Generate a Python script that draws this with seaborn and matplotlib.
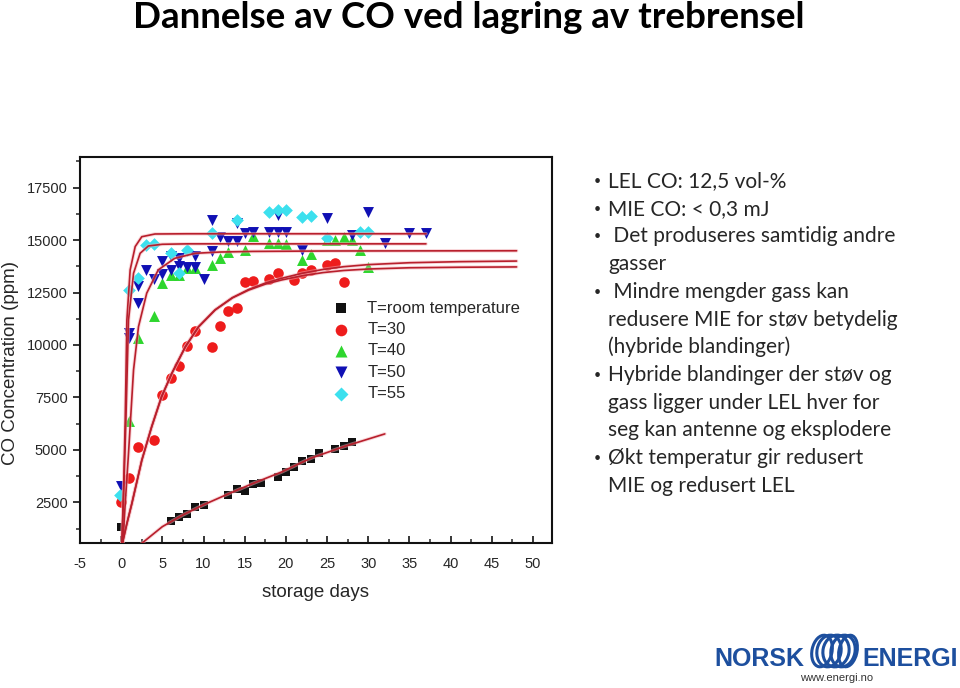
#plot.py - Dannelse av CO ved lagring av trebrensel

import matplotlib
matplotlib.use("Agg")
import matplotlib.pyplot as plt
from matplotlib.patches import Ellipse
from matplotlib.ticker import MultipleLocator
import pandas as pd
import seaborn as sns

#Målepunkter (dager, ppm CO)
rom_dager = [0, 6, 7, 8, 9, 10, 13, 14, 15, 16, 17, 19, 20, 21, 22, 23, 24, 26, 27, 28]
rom_co = [1340, 1626, 1817, 1928, 2262, 2389, 2834, 3120, 3056, 3374, 3437, 3692,
          3958, 4165, 4467, 4546, 4832, 5027, 5186, 5377]

t30_dager = [0, 1, 2, 4, 5, 6, 7, 8, 9, 11, 12, 13, 14, 15, 16, 18, 19, 21, 22, 23, 25, 26, 27]
t30_co = [2530, 3640, 5150, 5470, 7620, 8410, 9010, 9970, 10670, 9920, 10920, 11640,
          11750, 13020, 13070, 13130, 13450, 13100, 13420, 13590, 13810, 13900, 13000]

t40_dager = [1, 2, 4, 5, 6, 7, 8, 9, 11, 12, 13, 15, 16, 18, 19, 20, 22, 23, 25, 26, 27, 28, 29, 30]
t40_co = [6390, 10320, 11390, 12940, 13340, 13340, 13670, 13650, 13790, 14130, 14420,
          14530, 15200, 14850, 14850, 14830, 14050, 14320, 15010, 15010, 15140, 15010,
          14510, 13740]

t50_dager = [0, 1, 1, 2, 2, 3, 4, 5, 5, 6, 6, 7, 7, 8, 9, 9, 10, 11, 11, 12, 13, 14, 14,
             15, 16, 18, 19, 19, 20, 22, 25, 28, 30, 32, 35, 37]
t50_co = [3270, 10590, 10320, 12810, 11990, 13580, 13130, 13990, 13400, 14250, 13590,
          14150, 13770, 13700, 14250, 13740, 13150, 15980, 14470, 15150, 14960, 14960,
          15800, 15330, 15390, 15390, 15390, 16200, 15390, 14530, 16040, 15250, 16360,
          14880, 15350, 15350]

t55_dager = [-0.2, 1, 2, 3, 4, 6, 7, 8, 11, 14, 18, 19, 20, 22, 23, 25, 29, 30]
t55_co = [2850, 12620, 13180, 14770, 14800, 14370, 13420, 14530, 15330, 15960, 16360,
          16440, 16440, 16090, 16150, 15090, 15400, 15400]

#Tilpassede kurver, punkter avlest langs linjene
rom_fit_x = [2.5, 5, 7.5, 10, 13, 16, 19.5, 23, 27, 32]
rom_fit_y = [545, 1340, 1900, 2380, 2900, 3400, 3950, 4600, 5150, 5760]

t30a_fit_x = [0.15, 0.7, 1.3, 2.5, 3.7, 4.9, 6.15, 7.8, 9.4, 11.4, 13.5, 15.5, 17.5,
              19.5, 22, 24.5, 27, 30, 35, 41, 48]
t30a_fit_y = [555, 1500, 2450, 4500, 6100, 7530, 8650, 9920, 10870, 11670, 12250, 12650,
              12950, 13180, 13420, 13600, 13730, 13830, 13920, 13970, 14000]
t30b_fit_x = [0.15, 0.7, 1.3, 2.5, 3.7, 4.9, 6.15, 7.8, 9.4, 11.4, 13.5, 15.5, 17.5,
              19.5, 22, 24.5, 27, 30, 35, 41, 48]
t30b_fit_y = [555, 1500, 2450, 4500, 6100, 7530, 8650, 9920, 10870, 11670, 12250, 12620,
              12900, 13100, 13300, 13450, 13550, 13620, 13680, 13705, 13720]

t40_fit_x = [0.2, 0.5, 0.89, 1.5, 2.1, 3.1, 4.5, 6.5, 9, 12, 16, 25, 48]
t40_fit_y = [555, 2500, 4840, 8810, 10870, 12470, 13580, 14130, 14370, 14430, 14460,
             14480, 14490]

t50_fit_x = [0.1, 0.35, 0.57, 0.89, 1.5, 2.3, 3.3, 5, 8, 15, 37]
t50_fit_y = [555, 3600, 6420, 11190, 13420, 14370, 14720, 14800, 14820, 14820, 14820]

t55_fit_x = [0.08, 0.3, 0.49, 0.69, 1.09, 1.7, 2.5, 4.1, 8, 37]
t55_fit_y = [555, 3200, 6420, 11190, 13580, 14690, 15160, 15290, 15300, 15300]

tittel = "Dannelse av CO ved lagring av trebrensel"

#(tekst, kulepunkt?) per linje
punkt_linjer = [
    ("LEL CO: 12,5 vol-%", True),
    ("MIE CO: < 0,3 mJ", True),
    (" Det produseres samtidig andre", True),
    ("gasser", False),
    (" Mindre mengder gass kan", True),
    ("redusere MIE for støv betydelig", False),
    ("(hybride blandinger)", False),
    ("Hybride blandinger der støv og", True),
    ("gass ligger under LEL hver for", False),
    ("seg kan antenne og eksplodere", False),
    ("Økt temperatur gir redusert", True),
    ("MIE og redusert LEL", False),
]

serier = [
    ("T=room temperature", rom_dager, rom_co, "s", "#111111", 40),
    ("T=30", t30_dager, t30_co, "o", "#ee1c1c", 58),
    ("T=40", t40_dager, t40_co, "^", "#2ed62e", 62),
    ("T=50", t50_dager, t50_co, "v", "#1010b4", 62),
    ("T=55", t55_dager, t55_co, "D", "#3ce0ee", 42),
]
kurver = [
    (rom_fit_x, rom_fit_y),
    (t30a_fit_x, t30a_fit_y),
    (t30b_fit_x, t30b_fit_y),
    (t40_fit_x, t40_fit_y),
    (t50_fit_x, t50_fit_y),
    (t55_fit_x, t55_fit_y),
]

sns.set_style("ticks")
plt.rcParams["font.family"] = ["Liberation Sans", "DejaVu Sans"]
plt.rcParams["axes.unicode_minus"] = False

fig = plt.figure(figsize=(9.6, 6.88), dpi=100)
ax = fig.add_axes([80 / 960, 1 - 543 / 688, 472 / 960, 386 / 688])

for navn, x, y, mark, farge, st in serier:
    df = pd.DataFrame({"dager": x, "co": y})
    sns.scatterplot(data=df, x="dager", y="co", marker=mark, color=farge, s=st,
                    linewidth=0, label=navn, ax=ax, zorder=3)

for x, y in kurver:
    df = pd.DataFrame({"dager": x, "co": y})
    sns.lineplot(data=df, x="dager", y="co", sort=False, estimator=None, color="#f4b0b6",
                 lw=2.6, alpha=0.5, legend=False, ax=ax, zorder=4)
    sns.lineplot(data=df, x="dager", y="co", sort=False, estimator=None, color="#b81f2c",
                 lw=1.2, legend=False, ax=ax, zorder=5)

ax.set_xlim(-5, 52.3)
ax.set_ylim(560, 18960)
ax.xaxis.set_major_locator(MultipleLocator(5))
ax.xaxis.set_minor_locator(MultipleLocator(2.5))
ax.yaxis.set_major_locator(MultipleLocator(2500))
ax.yaxis.set_minor_locator(MultipleLocator(1250))
ax.tick_params(axis="x", which="major", direction="in", length=5, width=1.3, pad=10,
               labelsize=10.5)
ax.tick_params(axis="x", which="minor", direction="in", length=3, width=1.1)
ax.tick_params(axis="y", which="major", direction="out", length=5, width=1.3, pad=4,
               labelsize=10.5)
ax.tick_params(axis="y", which="minor", direction="out", length=3, width=1.1)
for sp in ax.spines.values():
    sp.set_linewidth(1.5)
    sp.set_color("#111111")

ax.set_xlabel("storage days", fontsize=13.5)
ax.set_ylabel("CO Concentration (ppm)", fontsize=13.5)
ax.xaxis.set_label_coords(0.5, -0.105)
ax.yaxis.set_label_coords(-0.13, 0.466)

ax.legend(loc="upper left", bbox_to_anchor=(0.536, 0.628), frameon=False, fontsize=12,
          handlelength=1, handletextpad=1.05, labelspacing=0.38, borderpad=0,
          borderaxespad=0, markerscale=1.1)

#Tittel og punktliste
fig.text(133 / 960, 1 - 28 / 688, tittel, fontsize=26.5, fontweight="bold",
         color="black", family=["Lato", "DejaVu Sans"], va="baseline")

y0 = 181
for i, (tekst, kule) in enumerate(punkt_linjer):
    y = 1 - (y0 + i * 27.7) / 688
    if kule:
        fig.text(594 / 960, y, "•", fontsize=9, va="center", ha="left",
                 family=["Lato", "DejaVu Sans"])
    fig.text(608 / 960, y, tekst, fontsize=15, va="center", ha="left",
             family=["Lato", "DejaVu Sans"])

#Logo nederst til høyre
blaa = "#1d4f9e"
fig.text(714 / 960, 1 - 666 / 688, "NORSK", fontsize=18, fontweight="bold", color=blaa,
         va="baseline")
fig.text(862 / 960, 1 - 666 / 688, "ENERGI", fontsize=18, fontweight="bold", color=blaa,
         va="baseline")
fig.text(837 / 960, 1 - 678 / 688, "www.energi.no", fontsize=8, color="#333333",
         ha="center", va="center")
logo_ax = fig.add_axes([806 / 960, 1 - 670 / 688, 56 / 960, 38 / 688])
logo_ax.set_xlim(0, 56)
logo_ax.set_ylim(0, 38)
logo_ax.axis("off")
for cx, w in [(16, 20), (23, 24), (30, 26), (37, 24), (42, 18)]:
    logo_ax.add_patch(Ellipse((cx, 19), w, 32, angle=-12, fill=False, lw=2.2,
                              edgecolor=blaa))

fig.savefig("out.png", dpi=100)
